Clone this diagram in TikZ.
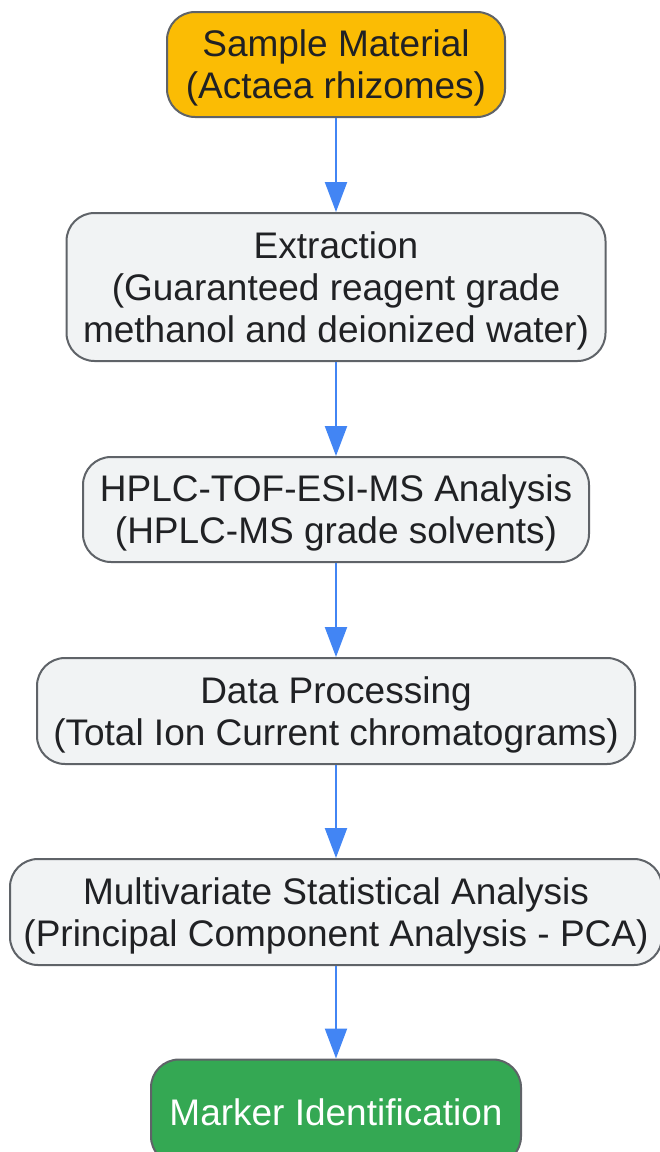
\documentclass[tikz,border=0pt]{standalone}
\usepackage{fontspec}
\setmainfont{Liberation Sans}
\usetikzlibrary{arrows.meta}
\definecolor{boxfill}{HTML}{F1F3F4}
\definecolor{boxline}{HTML}{5F6368}
\definecolor{txt}{HTML}{202124}
\definecolor{flow}{HTML}{4285F4}
\definecolor{startfill}{HTML}{FBBC04}
\definecolor{endfill}{HTML}{34A853}
\tikzset{
  stepbox/.style={draw=boxline, fill=boxfill, line width=2pt, rounded corners=28pt,
    align=center, text=txt, inner sep=0pt, text depth=0pt,
    font=\fontsize{37}{42}\selectfont},
  startbox/.style={stepbox, fill=startfill},
  endbox/.style={stepbox, fill=endfill, text=white},
  flowarrow/.style={draw=flow, line width=2.2pt, -{Triangle[width=22pt,length=30pt]}, fill=flow}
}
\begin{document}
\begin{tikzpicture}[x=1pt,y=-1pt]
\useasboundingbox (0,0) rectangle (660,1152);
\clip (0,0) rectangle (660,1152);
\node[startbox, minimum width=338pt, minimum height=105pt] (a) at (336,64.5) {Sample Material\\(Actaea rhizomes)};
\node[stepbox, minimum width=539pt, minimum height=148pt] (b) at (336,287) {Extraction\\(Guaranteed reagent grade\\methanol and deionized water)};
\node[stepbox, minimum width=506pt, minimum height=105pt] (c) at (336,509.5) {HPLC-TOF-ESI-MS Analysis\\(HPLC-MS grade solvents)};
\node[stepbox, minimum width=598pt, minimum height=106pt] (d) at (336,711) {Data Processing\\(Total Ion Current chromatograms)};
\node[stepbox, minimum width=652pt, minimum height=106pt] (e) at (336,912) {Multivariate Statistical Analysis\\(Principal Component Analysis - PCA)};
\node[endbox, minimum width=370pt, minimum height=105pt] (f) at (336,1112) {Marker Identification};
\draw[flowarrow] (a) -- (b);
\draw[flowarrow] (b) -- (c);
\draw[flowarrow] (c) -- (d);
\draw[flowarrow] (d) -- (e);
\draw[flowarrow] (e) -- (f);
\end{tikzpicture}
\end{document}
